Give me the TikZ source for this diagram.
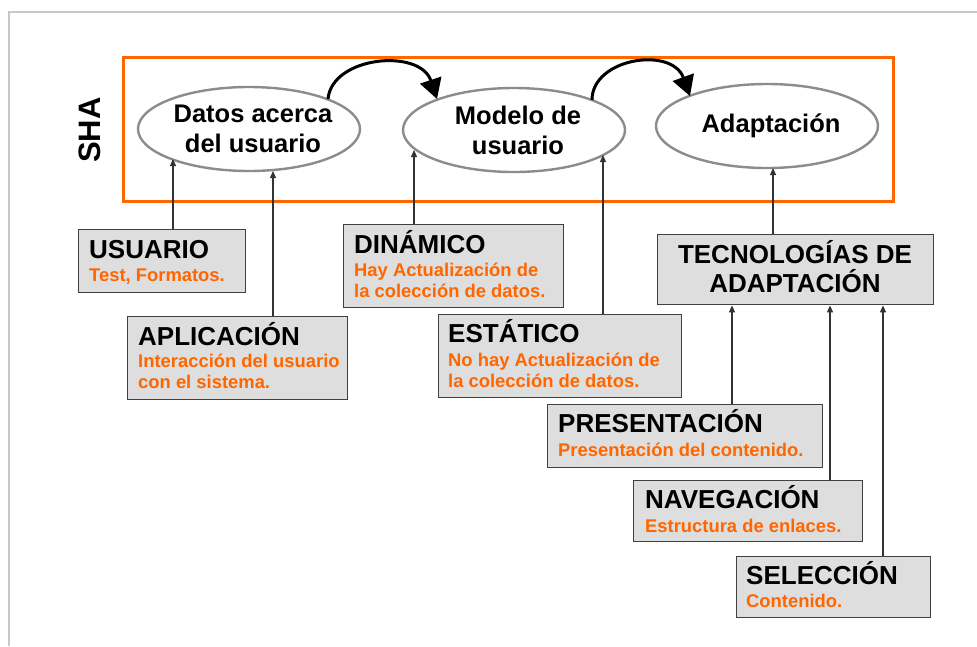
\documentclass[tikz,border=0pt]{standalone}
\usepackage{fontspec}
\setmainfont{Liberation Sans}
\usetikzlibrary{shapes.geometric,arrows.meta,calc}
\definecolor{shaorange}{HTML}{FF6600}
\definecolor{boxfill}{HTML}{DEDEDE}
\definecolor{boxline}{HTML}{404040}
\definecolor{ellline}{HTML}{8C8C8C}
\definecolor{framegray}{HTML}{C8C8C8}
\definecolor{connline}{HTML}{333333}
\begin{document}
\begin{tikzpicture}[x=1pt,y=-1pt,
  ell/.style={ellipse, draw=ellline, line width=2.4pt, fill=white, minimum width=222pt, minimum height=84pt, inner sep=0pt},
  elltext/.style={font=\fontsize{25.5}{30}\selectfont\bfseries, align=center, inner sep=0pt},
  infobox/.style={draw=boxline, fill=boxfill, line width=1.4pt, anchor=north west, inner sep=0pt},
  ttl/.style={font=\fontsize{26}{30}\selectfont\bfseries, anchor=base west, inner sep=0pt},
  ttlc/.style={font=\fontsize{26}{30}\selectfont\bfseries, anchor=base, inner sep=0pt},
  subt/.style={font=\fontsize{18.4}{21}\selectfont\bfseries, text=shaorange, anchor=base west, inner sep=0pt},
  conn/.style={draw=connline, line width=1.2pt, -{Triangle[length=7pt,width=6pt]}},
  bigarrow/.style={draw=black, line width=3pt, -{Triangle[length=20pt,width=22pt]}}
]
\useasboundingbox (0,0) rectangle (977,646);
\fill[white] (0,0) rectangle (977,646);
% page frame
\draw[framegray, line width=2pt] (9,646) -- (9,12) -- (977,12);

% SHA frame
\draw[shaorange, line width=3pt] (123,57) rectangle (893,201);
\node[rotate=90, font=\fontsize{31}{36}\selectfont\bfseries, inner sep=0pt] (sha) at (90,130) {SHA};

% ellipses
\node[ell] (e1) at (249,129) {};
\node[elltext] (e1t) at (253,129) {Datos acerca\\del usuario};
\node[ell] (e2) at (514,130) {};
\node[elltext] (e2t) at (518,130) {Modelo de\\usuario};
\node[ell] (e3) at (767,126) {};
\node[elltext] (e3t) at (771,126) {Adaptación};

% big curved arrows
\coordinate (b1s) at (328,99);
\coordinate (b1e) at (437,99);
\coordinate (b2s) at (592,100);
\coordinate (b2e) at (690,96);
\draw[bigarrow] (b1s) .. controls (332,56) and (420,48) .. (b1e);
\draw[bigarrow] (b2s) .. controls (592,58) and (672,46) .. (b2e);

% boxes
\node[infobox, minimum width=167pt, minimum height=63pt] (usuario) at (78,229) {};
\node[ttl] (usuarioT) at (89,258) {USUARIO};
\node[subt] (usuarioS) at (89,281) {Test, Formatos.};

\node[infobox, minimum width=220pt, minimum height=83pt] (aplic) at (127,316) {};
\node[ttl] (aplicT) at (138,345) {APLICACIÓN};
\node[subt] (aplicS1) at (138,367) {Interacción del usuario};
\node[subt] (aplicS2) at (138,388) {con el sistema.};

\node[infobox, minimum width=220pt, minimum height=83pt] (dinam) at (343,224) {};
\node[ttl] (dinamT) at (354,253) {DINÁMICO};
\node[subt] (dinamS1) at (354,276) {Hay Actualización de};
\node[subt] (dinamS2) at (354,297) {la colección de datos.};

\node[infobox, minimum width=243pt, minimum height=83pt] (estat) at (438,314) {};
\node[ttl] (estatT) at (448,342) {ESTÁTICO};
\node[subt] (estatS1) at (448,366) {No hay Actualización de};
\node[subt] (estatS2) at (448,387) {la colección de datos.};

\node[infobox, minimum width=276pt, minimum height=70pt] (tec) at (657,234) {};
\node[ttlc] (tecT1) at (795,263) {TECNOLOGÍAS DE};
\node[ttlc] (tecT2) at (795,292) {ADAPTACIÓN};

\node[infobox, minimum width=275pt, minimum height=63pt] (present) at (547,404) {};
\node[ttl] (presentT) at (558,432) {PRESENTACIÓN};
\node[subt] (presentS) at (558,456) {Presentación del contenido.};

\node[infobox, minimum width=229pt, minimum height=61pt] (naveg) at (633,480) {};
\node[ttl] (navegT) at (645,508) {NAVEGACIÓN};
\node[subt] (navegS) at (645,532) {Estructura de enlaces.};

\node[infobox, minimum width=194pt, minimum height=61pt] (selec) at (736,556) {};
\node[ttl] (selecT) at (746,584) {SELECCIÓN};
\node[subt] (selecS) at (746,607) {Contenido.};

% connectors into ellipses
\coordinate (c1) at (173,159);
\coordinate (c2) at (273,171);
\coordinate (c3) at (414,150);
\coordinate (c4) at (603,155);
\coordinate (c5) at (773,168);
\draw[conn] (usuario.north -| c1) -- (c1);
\draw[conn] (aplic.north -| c2) -- (c2);
\draw[conn] (dinam.north -| c3) -- (c3);
\draw[conn] (estat.north -| c4) -- (c4);
\draw[conn] (tec.north -| c5) -- (c5);

% connectors into technology box
\coordinate (p1) at (732,0);
\coordinate (p2) at (830,0);
\coordinate (p3) at (883,0);
\draw[conn] (p1 |- present.north) -- (p1 |- tec.south);
\draw[conn] (p2 |- naveg.north) -- (p2 |- tec.south);
\draw[conn] (p3 |- selec.north) -- (p3 |- tec.south);
\end{tikzpicture}
\end{document}
